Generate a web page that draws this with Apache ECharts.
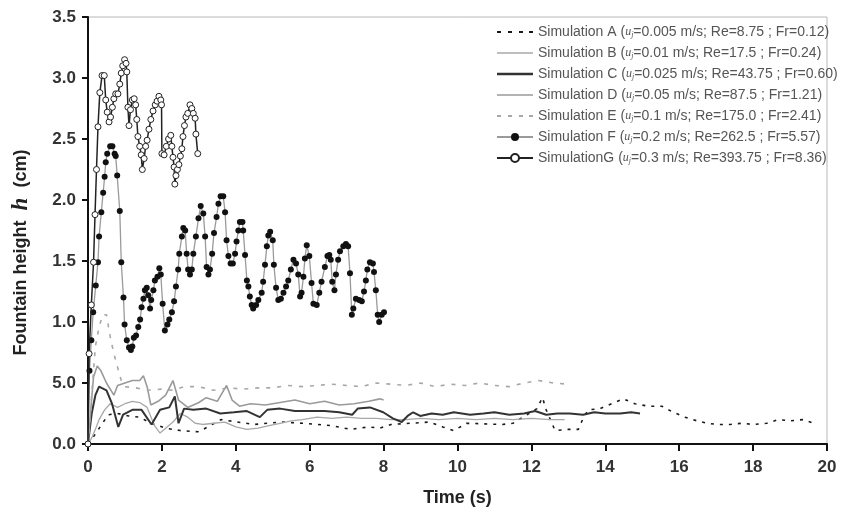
<!DOCTYPE html>
<html>
<head>
<meta charset="utf-8">
<script src="https://cdn.jsdelivr.net/npm/echarts@6/dist/echarts.min.js"></script>
<style>html,body{margin:0;padding:0;background:#fff}#c{width:843px;height:512px}</style>
</head>
<body>
<div id="c"></div>
<script>
// ---- Axis tick labels (as printed in the original figure) ----
var yTickLabels = ['0.0', '5.0', '1.0', '1.5', '2.0', '2.5', '3.0', '3.5'];
var xTickLabels = ['0', '2', '4', '6', '8', '10', '12', '14', '16', '18', '20'];

// ---- Legend texts ----
var simNames = ['Simulation A', 'Simulation B', 'Simulation C', 'Simulation D', 'Simulation E', 'Simulation F', 'SimulationG'];
var ujVals = ['0.005', '0.01', '0.025', '0.05', '0.1', '0.2', '0.3'];
var reVals = ['8.75', '17.5', '43.75', '87.5', '175.0', '262.5', '393.75'];
var frVals = ['0.12', '0.24', '0.60', '1.21', '2.41', '5.57', '8.36'];

// ---- Series A (u=0.005) ----
var tA = [0, 0.15, 0.37, 0.55, 0.8, 1.1, 1.4, 1.7, 2.1, 2.5, 3.0, 3.6, 4.5, 5.2, 5.8, 6.6, 7.1, 7.6, 7.9, 8.2, 9.25, 9.6, 9.9, 10.25, 11.2, 11.5, 12.15, 12.3, 12.4, 12.64, 13.0, 13.27, 13.4, 13.54, 13.86, 14.17, 14.49, 14.8, 15.16, 15.53, 15.84, 16.16, 16.48, 16.75, 17.06, 17.38, 17.69, 18.0, 18.37, 18.68, 19.0, 19.36, 19.72];
var hA = [0, 0.06, 0.16, 0.24, 0.25, 0.23, 0.22, 0.17, 0.13, 0.11, 0.10, 0.20, 0.16, 0.18, 0.17, 0.15, 0.12, 0.14, 0.13, 0.16, 0.18, 0.14, 0.11, 0.17, 0.16, 0.17, 0.29, 0.38, 0.28, 0.11, 0.12, 0.12, 0.21, 0.28, 0.29, 0.33, 0.37, 0.33, 0.31, 0.31, 0.26, 0.22, 0.19, 0.17, 0.16, 0.16, 0.17, 0.16, 0.17, 0.20, 0.19, 0.20, 0.16];

// ---- Series B (u=0.01) ----
var tB = [0, 0.1, 0.2, 0.3, 0.45, 0.6, 0.8, 1.0, 1.2, 1.4, 1.6, 1.8, 1.95, 2.1, 2.3, 2.5, 2.7, 2.9, 3.1, 3.4, 3.7, 4.0, 4.3, 4.6, 4.9, 5.2, 5.5, 5.8, 6.2, 6.6, 7.0, 7.4, 7.8, 8.2, 8.6, 9.0, 9.5, 10.0, 10.5, 11.0, 11.5, 12.0, 12.5, 12.9];
var hB = [0, 0.05, 0.12, 0.20, 0.28, 0.33, 0.30, 0.33, 0.35, 0.34, 0.30, 0.15, 0.09, 0.13, 0.18, 0.25, 0.22, 0.17, 0.16, 0.17, 0.18, 0.14, 0.12, 0.13, 0.15, 0.17, 0.19, 0.20, 0.22, 0.21, 0.22, 0.21, 0.21, 0.20, 0.20, 0.21, 0.20, 0.21, 0.20, 0.21, 0.20, 0.21, 0.20, 0.20];

// ---- Series C (u=0.025) ----
var tC = [0, 0.1, 0.2, 0.3, 0.5, 0.65, 0.82, 0.95, 1.2, 1.45, 1.72, 1.95, 2.2, 2.35, 2.45, 2.6, 2.85, 3.2, 3.58, 3.95, 4.3, 4.65, 4.85, 5.2, 5.6, 6.0, 6.4, 6.8, 7.15, 7.3, 7.63, 7.99, 8.25, 8.49, 8.65, 8.8, 8.99, 9.3, 9.6, 9.9, 10.34, 10.7, 11.0, 11.4, 11.8, 12.1, 12.4, 12.7, 13.04, 13.4, 13.7, 14.0, 14.4, 14.7, 14.94];
var hC = [0, 0.25, 0.40, 0.47, 0.44, 0.33, 0.14, 0.24, 0.28, 0.28, 0.16, 0.28, 0.30, 0.39, 0.17, 0.29, 0.28, 0.29, 0.25, 0.26, 0.27, 0.22, 0.28, 0.29, 0.27, 0.27, 0.27, 0.26, 0.24, 0.29, 0.30, 0.26, 0.21, 0.18, 0.23, 0.26, 0.23, 0.25, 0.24, 0.26, 0.24, 0.25, 0.26, 0.24, 0.25, 0.27, 0.24, 0.25, 0.25, 0.24, 0.26, 0.25, 0.25, 0.26, 0.25];

// ---- Series D (u=0.05) ----
var tD = [0, 0.08, 0.15, 0.25, 0.35, 0.5, 0.7, 0.8, 1.0, 1.2, 1.4, 1.5, 1.6, 1.7, 1.9, 2.1, 2.3, 2.45, 2.7, 3.0, 3.2, 3.5, 3.75, 3.9, 4.1, 4.4, 4.8, 5.2, 5.6, 6.0, 6.4, 6.8, 7.2, 7.6, 7.9, 8.0];
var hD = [0, 0.30, 0.55, 0.64, 0.60, 0.50, 0.40, 0.48, 0.50, 0.52, 0.52, 0.56, 0.47, 0.32, 0.35, 0.40, 0.52, 0.36, 0.30, 0.34, 0.38, 0.35, 0.48, 0.36, 0.31, 0.33, 0.32, 0.34, 0.36, 0.33, 0.35, 0.32, 0.33, 0.35, 0.37, 0.36];

// ---- Series E (u=0.1) ----
var tE = [0, 0.1, 0.2, 0.3, 0.4, 0.5, 0.6, 0.7, 0.8, 0.9, 1.0, 1.3, 1.6, 2.0, 2.3, 2.6, 3.0, 3.4, 3.8, 4.2, 4.6, 5.0, 5.4, 5.8, 6.2, 6.6, 7.0, 7.4, 7.8, 8.2, 8.6, 9.0, 9.4, 9.8, 10.2, 10.6, 11.0, 11.4, 11.8, 12.2, 12.6, 13.0];
var hE = [0, 0.40, 0.80, 0.96, 1.06, 1.06, 0.88, 0.74, 0.63, 0.52, 0.47, 0.46, 0.44, 0.45, 0.44, 0.47, 0.47, 0.44, 0.46, 0.45, 0.46, 0.46, 0.48, 0.47, 0.48, 0.49, 0.48, 0.47, 0.50, 0.49, 0.48, 0.50, 0.47, 0.49, 0.48, 0.50, 0.48, 0.47, 0.50, 0.52, 0.50, 0.49];

// ---- Series F (u=0.2) ----
var tF = [0, 0.04, 0.09, 0.14, 0.21, 0.27, 0.30, 0.36, 0.41, 0.45, 0.48, 0.52, 0.60, 0.66, 0.72, 0.75, 0.79, 0.86, 0.90, 0.96, 0.99, 1.05, 1.11, 1.16, 1.20, 1.24, 1.30, 1.36, 1.41, 1.45, 1.50, 1.54, 1.59, 1.63, 1.68, 1.71, 1.77, 1.81, 1.88, 1.93, 1.97, 2.02, 2.08, 2.15, 2.20, 2.27, 2.33, 2.38, 2.44, 2.47, 2.54, 2.58, 2.63, 2.67, 2.71, 2.76, 2.81, 2.85, 2.92, 2.99, 3.05, 3.12, 3.17, 3.21, 3.26, 3.30, 3.36, 3.41, 3.48, 3.53, 3.59, 3.66, 3.71, 3.75, 3.80, 3.86, 3.92, 3.98, 4.02, 4.07, 4.11, 4.18, 4.20, 4.25, 4.30, 4.34, 4.38, 4.43, 4.47, 4.55, 4.61, 4.70, 4.74, 4.79, 4.84, 4.88, 4.93, 5.00, 5.03, 5.09, 5.15, 5.22, 5.29, 5.36, 5.42, 5.49, 5.56, 5.63, 5.69, 5.74, 5.78, 5.83, 5.87, 5.92, 5.99, 6.05, 6.10, 6.19, 6.26, 6.32, 6.41, 6.48, 6.53, 6.57, 6.61, 6.67, 6.71, 6.77, 6.82, 6.91, 6.98, 7.04, 7.09, 7.14, 7.18, 7.25, 7.34, 7.41, 7.47, 7.52, 7.56, 7.63, 7.71, 7.74, 7.79, 7.84, 7.88, 7.95, 8.01];
var hF = [0, 0.60, 0.85, 1.08, 1.30, 1.49, 1.70, 1.90, 2.06, 2.19, 2.31, 2.38, 2.44, 2.44, 2.38, 2.36, 2.20, 1.91, 1.49, 1.20, 0.98, 0.85, 0.79, 0.77, 0.80, 0.87, 0.89, 0.96, 1.02, 1.12, 1.19, 1.26, 1.28, 1.22, 1.11, 1.18, 1.26, 1.34, 1.37, 1.44, 1.39, 1.15, 0.93, 0.98, 1.02, 1.08, 1.17, 1.29, 1.43, 1.56, 1.70, 1.77, 1.75, 1.56, 1.43, 1.39, 1.43, 1.56, 1.70, 1.85, 1.95, 1.89, 1.70, 1.45, 1.39, 1.43, 1.56, 1.73, 1.86, 1.97, 2.03, 2.03, 1.90, 1.67, 1.54, 1.48, 1.48, 1.56, 1.66, 1.75, 1.82, 1.82, 1.75, 1.55, 1.34, 1.29, 1.21, 1.14, 1.11, 1.14, 1.18, 1.24, 1.33, 1.47, 1.62, 1.71, 1.74, 1.67, 1.47, 1.28, 1.18, 1.19, 1.24, 1.29, 1.34, 1.43, 1.51, 1.48, 1.39, 1.21, 1.24, 1.37, 1.52, 1.63, 1.54, 1.32, 1.15, 1.14, 1.24, 1.33, 1.45, 1.54, 1.55, 1.51, 1.33, 1.26, 1.39, 1.51, 1.58, 1.62, 1.64, 1.62, 1.40, 1.06, 1.11, 1.19, 1.18, 1.17, 1.25, 1.34, 1.43, 1.49, 1.48, 1.41, 1.26, 1.06, 1.00, 1.06, 1.08];

// ---- Series G (u=0.3) ----
var tG = [0, 0.03, 0.09, 0.15, 0.19, 0.23, 0.27, 0.32, 0.38, 0.44, 0.48, 0.52, 0.57, 0.61, 0.66, 0.70, 0.75, 0.81, 0.86, 0.90, 0.94, 0.99, 1.03, 1.05, 1.08, 1.11, 1.15, 1.20, 1.25, 1.29, 1.32, 1.35, 1.40, 1.44, 1.47, 1.52, 1.56, 1.60, 1.65, 1.70, 1.76, 1.82, 1.87, 1.92, 1.97, 1.99, 2.00, 2.06, 2.12, 2.18, 2.24, 2.27, 2.30, 2.33, 2.35, 2.38, 2.42, 2.46, 2.50, 2.54, 2.57, 2.61, 2.65, 2.70, 2.76, 2.81, 2.85, 2.90, 2.92, 2.97];
var hG = [0, 0.74, 1.14, 1.49, 1.88, 2.25, 2.60, 2.88, 3.02, 3.02, 2.82, 2.72, 2.64, 2.68, 2.76, 2.83, 2.87, 2.87, 2.95, 3.04, 3.10, 3.15, 3.12, 3.05, 2.76, 2.61, 2.74, 2.82, 2.83, 2.78, 2.66, 2.52, 2.44, 2.37, 2.25, 2.34, 2.44, 2.49, 2.58, 2.66, 2.73, 2.78, 2.81, 2.85, 2.82, 2.78, 2.38, 2.37, 2.44, 2.50, 2.53, 2.44, 2.35, 2.27, 2.13, 2.20, 2.25, 2.29, 2.36, 2.42, 2.52, 2.61, 2.68, 2.71, 2.78, 2.75, 2.71, 2.67, 2.54, 2.38];

function pairs(t, h) { return t.map(function (v, i) { return [v, h[i]]; }); }

var FONT = '"Liberation Sans", Arial, Helvetica, sans-serif';
var chart = echarts.init(document.getElementById('c'), null, { renderer: 'canvas' });

function lineSeries(i, t, h, color, width, type) {
  return {
    name: simNames[i], type: 'line', data: pairs(t, h), symbol: 'none',
    lineStyle: { color: color, width: width, type: type },
    itemStyle: { color: color }, animation: false, z: 2
  };
}

var series = [
  lineSeries(0, tA, hA, '#1a1a1a', 1.6, [3, 6]),
  lineSeries(1, tB, hB, '#a8a8a8', 1.3, 'solid'),
  lineSeries(2, tC, hC, '#333333', 2.0, 'solid'),
  lineSeries(3, tD, hD, '#9a9a9a', 1.6, 'solid'),
  lineSeries(4, tE, hE, '#a8a8a8', 1.6, [4, 7]),
  {
    name: simNames[5], type: 'line', data: pairs(tF, hF), symbol: 'circle', symbolSize: 6,
    lineStyle: { color: '#9a9a9a', width: 1.3 }, itemStyle: { color: '#111' }, animation: false, z: 3
  },
  {
    name: simNames[6], type: 'line', data: pairs(tG, hG), symbol: 'circle', symbolSize: 6,
    lineStyle: { color: '#222', width: 1.5 }, itemStyle: { color: '#fff', borderColor: '#222', borderWidth: 1 }, animation: false, z: 4
  }
];

// legend icons (line samples)
var dashIcon = 'path://M0,0h4v2h-4z M11,0h4v2h-4z M22,0h4v2h-4z M32,0h4v2h-4z';
var thinIcon = 'path://M0,0h36v1.4h-36z';
var thickIcon = 'path://M0,0h36v2.6h-36z';
var legendIcons = [dashIcon, thinIcon, thickIcon, thinIcon, dashIcon, null, null];

chart.setOption({
  backgroundColor: '#fff',
  animation: false,
  grid: {
    left: 88, right: 16, top: 17, bottom: 68, show: true, borderColor: '#b8b8b8', borderWidth: 1,
    containLabel: false, outerBoundsMode: 'none'
  },
  legend: {
    orient: 'vertical', left: 491, top: 20, itemWidth: 36, itemHeight: 10, itemGap: 7,
    align: 'left', symbolKeepAspect: true,
    data: simNames.map(function (n, i) {
      return legendIcons[i] ? { name: n, icon: legendIcons[i] } : { name: n };
    }),
    formatter: function (name) {
      var i = simNames.indexOf(name);
      return name + ' ({u|u}{j|j}=' + ujVals[i] + ' m/s; Re=' + reVals[i] + ' ; Fr=' + frVals[i] + ')';
    },
    textStyle: {
      fontFamily: FONT, fontSize: 14, color: '#555',
      rich: {
        u: { fontFamily: '"Liberation Serif", serif', fontStyle: 'italic', fontSize: 12, color: '#555' },
        j: { fontFamily: '"Liberation Serif", serif', fontStyle: 'italic', fontSize: 8, color: '#555', padding: [6, 0, 0, 0] }
      }
    }
  },
  xAxis: {
    type: 'value', min: 0, max: 20, interval: 2,
    name: 'Time (s)', nameLocation: 'middle', nameGap: 45,
    nameTextStyle: { fontFamily: FONT, fontWeight: 'bold', fontSize: 18, color: '#222' },
    axisLine: { onZero: false, lineStyle: { color: '#111', width: 2 } },
    axisTick: { show: true, length: 7, lineStyle: { color: '#111', width: 2 } },
    axisLabel: {
      margin: 15, fontFamily: FONT, fontWeight: 'bold', fontSize: 17, color: '#333',
      formatter: function (v) { return xTickLabels[Math.round(v / 2)]; }
    },
    splitLine: { show: false }
  },
  yAxis: {
    type: 'value', min: 0, max: 3.5, interval: 0.5,
    name: '{t|Fountain height  }{h|h}{t|  (cm)}', nameLocation: 'middle', nameGap: 55, nameRotate: 90,
    nameTextStyle: {
      padding: [0, 44, 0, 0],
      rich: {
        t: { fontFamily: FONT, fontWeight: 'bold', fontSize: 18, color: '#222' },
        h: { fontFamily: '"Liberation Serif", "DejaVu Serif", serif', fontWeight: 'bold', fontStyle: 'italic', fontSize: 23, color: '#222' }
      }
    },
    axisLine: { onZero: false, lineStyle: { color: '#111', width: 2 } },
    axisTick: { show: true, length: 6, lineStyle: { color: '#111', width: 2 } },
    axisLabel: {
      margin: 12, fontFamily: FONT, fontWeight: 'bold', fontSize: 17, color: '#333',
      formatter: function (v) { return yTickLabels[Math.round(v / 0.5)]; }
    },
    splitLine: { show: false }
  },
  series: series
});
</script>
</body>
</html>
